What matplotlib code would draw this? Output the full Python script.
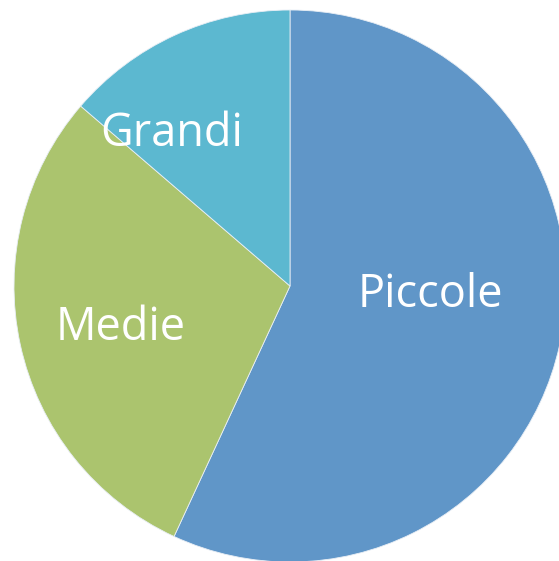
import matplotlib.pyplot as plt

# quote delle aziende per dimensione (%)
categorie = ['Piccole', 'Medie', 'Grandi']
valori = [56.9, 29.4, 13.7]
colori = ['#6096c8', '#abc46e', '#5cb8d0']

# posizione delle etichette: centro orizzontale e linea di base (pixel, origine in alto)
pos_etichette = [(430, 307), (121, 340), (172, 146)]

fig = plt.figure(figsize=(5.59, 5.61), dpi=100)
ax = fig.add_axes([0, 0, 1, 1])

ax.pie(valori, colors=colori, startangle=90, counterclock=False,
       center=(290, 561 - 286), radius=276,
       wedgeprops=dict(edgecolor='#e8eef5', linewidth=0.6))

for nome, (x, y) in zip(categorie, pos_etichette):
    ax.text(x, 561 - y, nome, color='white', fontsize=32.5,
            family='Open Sans', ha='center', va='baseline')

ax.set_xlim(0, 559), ax.set_ylim(0, 561)
ax.set_aspect('equal')
ax.axis('off')

fig.savefig('out.png', dpi=100)
